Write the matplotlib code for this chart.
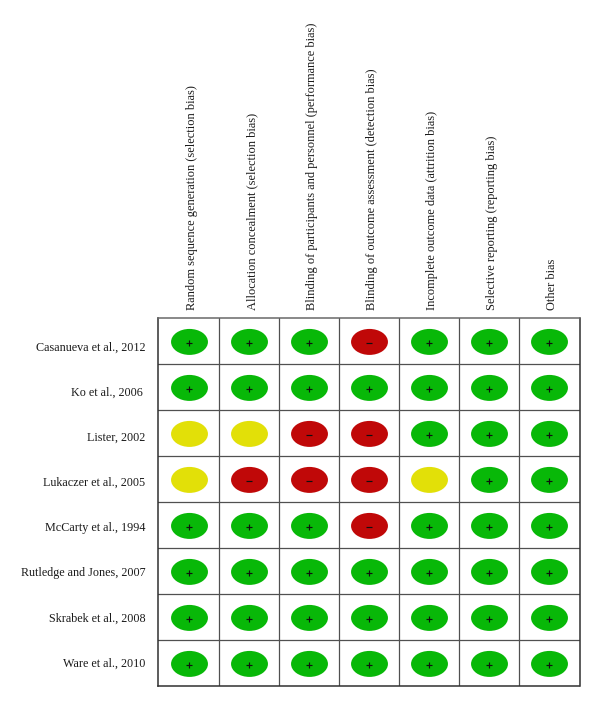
import matplotlib
matplotlib.use("Agg")
import matplotlib.pyplot as plt
from matplotlib.patches import Ellipse

plt.rcParams["font.family"] = ["Liberation Serif", "DejaVu Serif"]

# Risk of bias domains (columns)
domains = [
    "Random sequence generation (selection bias)",
    "Allocation concealment (selection bias)",
    "Blinding of participants and personnel (performance bias)",
    "Blinding of outcome assessment (detection bias)",
    "Incomplete outcome data (attrition bias)",
    "Selective reporting (reporting bias)",
    "Other bias",
]

# Studies (rows)
studies = [
    "Casanueva et al., 2012",
    "Ko et al., 2006 ",
    "Lister, 2002",
    "Lukaczer et al., 2005",
    "McCarty et al., 1994",
    "Rutledge and Jones, 2007",
    "Skrabek et al., 2008",
    "Ware et al., 2010",
]

# + low risk, - high risk, ? unclear
ratings = [
    ["+", "+", "+", "-", "+", "+", "+"],
    ["+", "+", "+", "+", "+", "+", "+"],
    ["?", "?", "-", "-", "+", "+", "+"],
    ["?", "-", "-", "-", "?", "+", "+"],
    ["+", "+", "+", "-", "+", "+", "+"],
    ["+", "+", "+", "+", "+", "+", "+"],
    ["+", "+", "+", "+", "+", "+", "+"],
    ["+", "+", "+", "+", "+", "+", "+"],
]

colors = {"+": "#08b808", "-": "#c00808", "?": "#e2e008"}
markers = {"+": "+", "-": "_"}

W, H = 600, 707
fig = plt.figure(figsize=(W / 100, H / 100), dpi=100)
ax = fig.add_axes([158 / W, 1 - 686 / H, (579.5 - 158) / W, (686 - 318) / H])
ax.set_xlim(-0.025, len(domains))
ax.set_ylim(len(studies), 0)

for side, spine in ax.spines.items():
    spine.set_linewidth(1.1)
    spine.set_color("#686868" if side == "top" else "#303030")

ax.set_xticks(range(1, len(domains)))
ax.set_yticks(range(1, len(studies)))
ax.set_xticklabels([])
ax.set_yticklabels([])
ax.tick_params(length=0)
ax.grid(color="#505050", linewidth=0.9)
ax.set_axisbelow(True)

for r, row in enumerate(ratings):
    for c, val in enumerate(row):
        ax.add_patch(Ellipse((c + 0.5, r + 0.52), 0.615, 0.565, color=colors[val], lw=0))
        if val in markers:
            ax.plot(c + 0.5, r + 0.54, marker=markers[val], ms=5, mew=0.85, color="#101010")

# Column headers, rotated
for c, name in enumerate(domains):
    ax.text(c + 0.54, -0.17, name, rotation=90, ha="center", va="bottom", fontsize=8.9, color="#1a1a1a")

# Row labels, left of the grid
for r, name in enumerate(studies):
    ax.text(-0.233, 0.65 + r * 0.98, name, ha="right", va="center", fontsize=8.7, color="#1a1a1a")

fig.savefig("out.png", dpi=100)
